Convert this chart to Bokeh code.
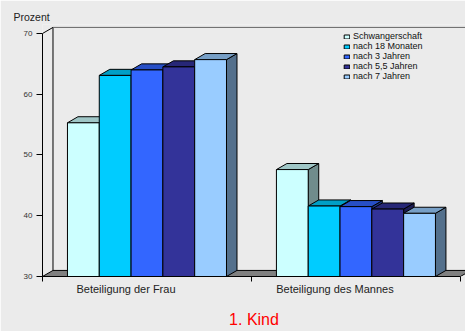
from bokeh.plotting import figure
from bokeh.models import Range1d, FixedTicker, Legend, LegendItem, Title
from bokeh.embed import file_html
from bokeh.resources import INLINE

# Data
categories = ["Beteiligung der Frau", "Beteiligung des Mannes"]
series = ["Schwangerschaft", "nach 18 Monaten", "nach 3 Jahren", "nach 5,5 Jahren", "nach 7 Jahren"]
frau = [55.3, 63.1, 64.0, 64.5, 65.7]
mann = [47.6, 41.6, 41.5, 41.1, 40.4]
y_ticks = [30, 40, 50, 60, 70]

values = [frau, mann]
front_colors = ["#CCFFFF", "#00CCFF", "#3366FF", "#333399", "#99CCFF"]

# Geometry (x unit = one bar width)
BASE = 30
BAND = 6.57            # width of one category band
GAP = (BAND - len(series)) / 2
DX = 0.33              # depth offset along x
DY = 1.0               # depth offset along y
X_END = 13.3
Y_END = 71.48

BG = "#EBEBEB"
FONT = "Liberation Sans"


def shade(hexcol, f):
    h = hexcol.lstrip("#")
    r, g, b = (int(h[i:i + 2], 16) for i in (0, 2, 4))
    return "#%02X%02X%02X" % (int(r * f), int(g * f), int(b * f))


p = figure(width=465, height=331, output_backend="svg", toolbar_location=None,
           x_range=Range1d(0, X_END), y_range=Range1d(BASE, Y_END),
           min_border_left=42, min_border_right=0, min_border_top=24, min_border_bottom=55)
p.background_fill_color = BG
p.border_fill_color = BG
p.outline_line_color = None
p.xgrid.visible = False
p.ygrid.visible = False

# Unit caption at the top left
p.title = Title(text="Prozent", align="left", offset=-29, standoff=3, vertical_align="bottom",
                text_font=FONT, text_font_size="10.5px", text_font_style="normal",
                text_color="#222222")

# Floor
p.patch([0, 2 * BAND, 2 * BAND + DX, DX], [BASE, BASE, BASE + DY, BASE + DY],
        fill_color="#808080", line_color="#000000", line_width=1)

# Walls
top = y_ticks[-1]
p.multi_line(xs=[[0, DX], [DX, DX], [DX, X_END]],
             ys=[[top, top + DY], [BASE + DY, top + DY], [top + DY, top + DY]],
             line_color=["#000000", "#000000", "#666666"], line_width=1)

# Bars: side, top and front faces, drawn series by series
items = []
for j, name in enumerate(series):
    fc = front_colors[j]
    lefts, rights, tops_v = [], [], []
    side_xs, side_ys, top_xs, top_ys = [], [], [], []
    for i in range(len(categories)):
        v = values[i][j]
        x0 = i * BAND + GAP + j
        x1 = x0 + 1
        lefts.append(x0)
        rights.append(x1)
        tops_v.append(v)
        side_xs.append([x1, x1, x1 + DX, x1 + DX])
        side_ys.append([BASE, v, v + DY, BASE + DY])
        top_xs.append([x0, x1, x1 + DX, x0 + DX])
        top_ys.append([v, v, v + DY, v + DY])
    p.patches(side_xs, side_ys, fill_color=shade(fc, 0.55), line_color="#000000", line_width=1)
    p.patches(top_xs, top_ys, fill_color=shade(fc, 0.78), line_color="#000000", line_width=1)
    r = p.quad(left=lefts, right=rights, bottom=BASE, top=tops_v,
               fill_color=fc, line_color="#000000", line_width=1)
    items.append(LegendItem(label=name, renderers=[r]))

# Axes
yax = p.yaxis[0]
yax.ticker = FixedTicker(ticks=y_ticks)
yax.bounds = (y_ticks[0], y_ticks[-1])
yax.major_tick_out = 6
yax.major_tick_in = 0
yax.minor_tick_out = 0
yax.minor_tick_in = 0
yax.axis_line_color = "#000000"
yax.major_tick_line_color = "#000000"
yax.major_label_text_font = FONT
yax.major_label_text_font_size = "8px"
yax.major_label_text_color = "#333333"
yax.major_label_standoff = 4

label_pos = [i * BAND + BAND / 2 - 0.66 for i in range(len(categories))]
xax = p.xaxis[0]
xax.ticker = FixedTicker(ticks=label_pos, minor_ticks=[i * BAND for i in range(len(categories) + 1)])
xax.major_label_overrides = {pos: c for pos, c in zip(label_pos, categories)}
xax.bounds = (0, len(categories) * BAND)
xax.major_tick_out = 0
xax.major_tick_in = 0
xax.minor_tick_out = 5
xax.minor_tick_in = 0
xax.axis_line_color = "#000000"
xax.minor_tick_line_color = "#000000"
xax.major_label_text_font = FONT
xax.major_label_text_font_size = "11px"
xax.major_label_text_color = "#222222"
xax.major_label_standoff = 1
# Chart caption under the category labels
xax.axis_label = "1. Kind"
xax.axis_label_text_font = FONT
xax.axis_label_text_font_size = "16px"
xax.axis_label_text_font_style = "normal"
xax.axis_label_text_color = "#FF0000"
xax.axis_label_standoff = 13

# Legend
legend = Legend(items=items, location=(301, 195), glyph_width=7, glyph_height=5,
                label_height=9, spacing=0, padding=0, margin=0, label_standoff=3,
                label_text_font=FONT, label_text_font_size="9px", label_text_color="#111111",
                label_text_baseline="middle",
                background_fill_alpha=0, border_line_color=None)
p.add_layout(legend)

open("out.html", "w").write(file_html(p, INLINE))
